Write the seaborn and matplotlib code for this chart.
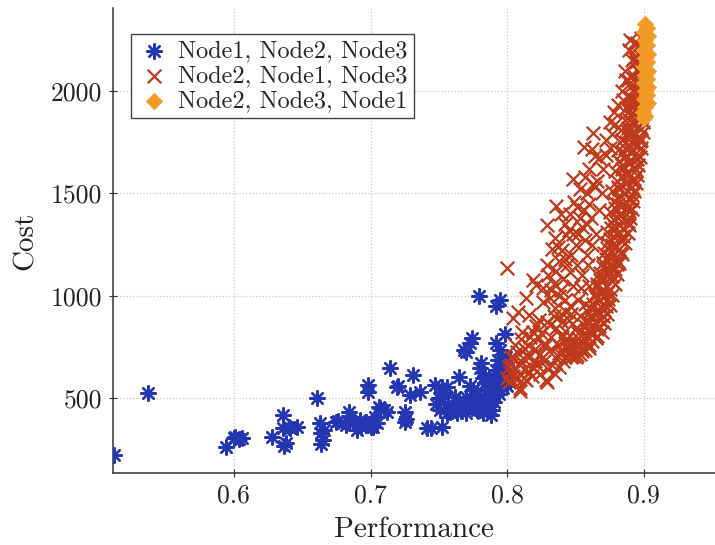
import matplotlib
matplotlib.use("Agg")
import matplotlib.pyplot as plt
import seaborn as sns
import pandas as pd

# ---------------- data ----------------
series_labels = ["Node1, Node2, Node3", "Node2, Node1, Node3", "Node2, Node3, Node1"]

blue_perf = [0.512, 0.537, 0.594, 0.601, 0.606, 0.604, 0.628, 0.636, 0.637, 0.636, 0.641, 0.646,
             0.638, 0.661, 0.663, 0.664, 0.665, 0.664, 0.666, 0.675, 0.682, 0.684, 0.687, 0.690,
             0.692, 0.697, 0.700, 0.702, 0.703, 0.707, 0.698, 0.698, 0.712, 0.714, 0.719, 0.725,
             0.725, 0.729, 0.731, 0.736, 0.741, 0.744, 0.752, 0.747, 0.752, 0.756, 0.750, 0.751,
             0.758, 0.762, 0.765, 0.770, 0.775, 0.784, 0.787, 0.792, 0.795, 0.797, 0.789, 0.782,
             0.778, 0.770, 0.763, 0.756, 0.782, 0.789, 0.774, 0.768, 0.780, 0.785, 0.793, 0.797,
             0.765, 0.780, 0.781, 0.768, 0.770, 0.773, 0.774, 0.798, 0.792, 0.795, 0.779, 0.795,
             0.792, 0.799, 0.799, 0.790, 0.786, 0.776, 0.772, 0.760, 0.790, 0.794, 0.798, 0.786,
             0.778, 0.784, 0.791, 0.796, 0.800, 0.748, 0.753, 0.757, 0.766, 0.780, 0.788, 0.700,
             0.693, 0.684, 0.705, 0.710, 0.640, 0.600, 0.773, 0.782, 0.799, 0.796, 0.676, 0.683,
             0.696, 0.706, 0.720, 0.726]
blue_cost = [222, 526, 259, 311, 303, 300, 311, 416, 266, 352, 352, 357,
             280, 499, 377, 328, 294, 277, 345, 385, 368, 434, 385, 344,
             393, 385, 360, 360, 409, 450, 564, 531, 434, 645, 553, 434,
             385, 515, 613, 531, 352, 355, 360, 564, 556, 556, 499, 442,
             434, 507, 483, 507, 540, 572, 605, 637, 588, 548, 523, 474,
             442, 426, 426, 426, 426, 442, 458, 458, 507, 540, 686, 678,
             601, 645, 670, 735, 727, 767, 792, 811, 767, 735, 999, 979,
             950, 700, 620, 480, 500, 490, 470, 450, 560, 520, 580, 460,
             520, 610, 600, 650, 560, 470, 520, 470, 440, 440, 420, 380,
             360, 380, 380, 440, 360, 305, 560, 600, 660, 600, 388, 388,
             379, 456, 558, 396]

red_perf = [0.800, 0.848, 0.863, 0.856, 0.862, 0.864, 0.867, 0.863, 0.864, 0.836, 0.829, 0.839,
            0.851, 0.845, 0.843, 0.848, 0.833, 0.837, 0.840, 0.855, 0.857, 0.829, 0.819, 0.821,
            0.834, 0.839, 0.846, 0.851, 0.814, 0.826, 0.831, 0.808, 0.816, 0.823, 0.831, 0.836,
            0.843, 0.850, 0.856, 0.804, 0.811, 0.819, 0.823, 0.828, 0.837, 0.840, 0.848, 0.852,
            0.860, 0.807, 0.814, 0.820, 0.809, 0.802, 0.805, 0.816, 0.828, 0.809, 0.800, 0.803,
            0.823, 0.836, 0.829, 0.809,
            0.812, 0.818, 0.826, 0.832, 0.806, 0.801, 0.815, 0.844, 0.838, 0.846, 0.852, 0.848,
            0.842, 0.850, 0.858, 0.853, 0.860, 0.858, 0.870, 0.872, 0.875, 0.878, 0.887, 0.893,
            0.895, 0.891, 0.888, 0.885, 0.893,
            0.842, 0.846, 0.838, 0.845, 0.850, 0.855, 0.853,
            0.848, 0.853, 0.857, 0.860, 0.855, 0.862, 0.858, 0.865,
            0.856, 0.861, 0.866, 0.859, 0.864, 0.868, 0.862, 0.870,
            0.860, 0.865, 0.869, 0.872, 0.863, 0.867, 0.874, 0.870,
            0.864, 0.869, 0.875, 0.872, 0.866, 0.877, 0.871, 0.874,
            0.868, 0.873, 0.879, 0.876, 0.870, 0.881, 0.875, 0.878,
            0.871, 0.876, 0.882, 0.879, 0.873, 0.884, 0.878, 0.881,
            0.873, 0.878, 0.885, 0.882, 0.876, 0.887, 0.880, 0.884,
            0.875, 0.880, 0.888, 0.884, 0.878, 0.890, 0.883, 0.886,
            0.877, 0.882, 0.891, 0.887, 0.880, 0.893, 0.885, 0.889,
            0.879, 0.884, 0.893, 0.889, 0.882, 0.895, 0.887, 0.891,
            0.881, 0.886, 0.895, 0.891, 0.884, 0.897, 0.889, 0.893,
            0.883, 0.888, 0.896, 0.892, 0.886, 0.898, 0.890, 0.894,
            0.887, 0.891, 0.897, 0.893, 0.889, 0.898, 0.895,
            0.890, 0.894, 0.898, 0.892, 0.896, 0.899, 0.894, 0.897, 0.899, 0.896, 0.898,
            0.851, 0.859, 0.863, 0.867, 0.861, 0.871, 0.866, 0.873, 0.868, 0.877, 0.872, 0.880,
            0.874, 0.883, 0.877, 0.885, 0.879, 0.888, 0.882, 0.889, 0.881, 0.891, 0.884, 0.892,
            0.886, 0.894, 0.888, 0.896, 0.890, 0.897, 0.892, 0.898, 0.891, 0.897, 0.893, 0.899,
            0.892, 0.897,
            0.801, 0.804, 0.806, 0.808, 0.810, 0.812, 0.814, 0.816, 0.818, 0.820, 0.822, 0.824,
            0.826, 0.827, 0.803, 0.806, 0.810, 0.813, 0.817, 0.821, 0.825, 0.829, 0.832, 0.834,
            0.830, 0.833, 0.835, 0.838, 0.841, 0.844, 0.847, 0.849, 0.852, 0.835, 0.840, 0.842,
            0.845, 0.847, 0.842, 0.838, 0.832, 0.826, 0.830, 0.836, 0.841, 0.844, 0.847, 0.838,
            0.835, 0.842, 0.846, 0.849, 0.853, 0.857, 0.860, 0.852, 0.856, 0.858, 0.861, 0.855,
            0.859, 0.862, 0.865, 0.854, 0.857, 0.853, 0.860, 0.867, 0.869, 0.866, 0.872, 0.875,
            0.877, 0.879, 0.881, 0.884, 0.886, 0.889, 0.890,
            0.866, 0.869, 0.871, 0.873, 0.875, 0.877, 0.879, 0.880, 0.882, 0.884, 0.886, 0.888,
            0.889, 0.890, 0.891, 0.892, 0.893, 0.894, 0.895, 0.896, 0.897, 0.898, 0.898, 0.899,
            0.899, 0.899, 0.899,
            0.858, 0.861, 0.864, 0.866, 0.868, 0.870, 0.872, 0.873, 0.875, 0.876, 0.878, 0.879,
            0.880, 0.881, 0.883, 0.884, 0.885, 0.887, 0.888, 0.889, 0.890, 0.891, 0.893, 0.895,
            0.896,
            0.854, 0.857, 0.859, 0.850, 0.846, 0.843, 0.840]
red_cost = [1138, 1571, 1794, 1725, 1717, 1685, 1672, 1547, 1531, 1441, 1344, 1401,
            1433, 1320, 1295, 1303, 1230, 1239, 1222, 1336, 1271, 1149, 1076, 1052,
            1060, 1028, 1117, 1149, 987, 971, 987, 922, 906, 882, 857, 841,
            922, 841, 857, 890, 825, 825, 792, 760, 760, 727, 744, 792,
            760, 727, 711, 679, 662, 630, 695, 630, 589, 549, 597, 662,
            711, 695, 580, 537,
            600, 650, 700, 740, 600, 650, 760, 790, 900, 950, 980, 1050,
            1180, 1250, 1200, 1380, 1450, 1500, 1620, 1760, 1850, 1900, 2056, 2161,
            2237, 2151, 2054, 1956, 2234,
            700, 720, 720, 760, 700, 730, 760,
            705, 718, 735, 745, 770, 780, 800, 795,
            820, 830, 840, 860, 870, 880, 895, 900,
            915, 925, 940, 950, 960, 975, 985, 1000,
            1010, 1025, 1035, 1050, 1060, 1070, 1085, 1100,
            1110, 1120, 1130, 1145, 1160, 1170, 1185, 1200,
            1210, 1220, 1230, 1245, 1260, 1270, 1285, 1300,
            1310, 1320, 1330, 1345, 1360, 1370, 1385, 1400,
            1410, 1420, 1430, 1445, 1460, 1470, 1485, 1500,
            1510, 1520, 1530, 1545, 1560, 1570, 1585, 1600,
            1610, 1620, 1630, 1645, 1660, 1670, 1685, 1700,
            1710, 1720, 1730, 1745, 1760, 1770, 1785, 1800,
            1810, 1820, 1830, 1845, 1860, 1870, 1885, 1900,
            1915, 1925, 1940, 1955, 1970, 1985, 2000,
            2020, 2040, 2060, 2080, 2100, 2120, 2140, 2170, 2200, 2220, 2260,
            712, 755, 812, 853, 905, 930, 990, 1015, 1075, 1095, 1135, 1155,
            1195, 1215, 1250, 1290, 1335, 1355, 1395, 1415, 1450, 1490, 1535, 1555,
            1595, 1615, 1655, 1690, 1725, 1755, 1790, 1815, 1850, 1895, 1930, 1960,
            2005, 2030,
            580, 610, 640, 600, 680, 640, 590, 700, 610, 740, 660, 620,
            760, 680, 700, 760, 790, 740, 800, 850, 820, 870, 800, 900,
            640, 660, 620, 650, 680, 740, 700, 770, 820, 940, 870, 830,
            880, 910, 980, 1000, 1030, 1040, 1100, 1120, 1080, 1150, 1200, 1170,
            1280, 1350, 1400, 1460, 1520, 1580, 1620, 1300, 1420, 1350, 1380, 1100,
            1150, 1250, 1300, 1040, 960, 900, 1050, 1420, 1500, 1560, 1690, 1720,
            1790, 1840, 1930, 2000, 2100, 2200, 2250,
            805, 822, 868, 910, 955, 1005, 1060, 1105, 1160, 1205, 1260, 1305,
            1345, 1380, 1425, 1465, 1510, 1550, 1590, 1640, 1680, 1720, 1760, 1800,
            1850, 1890, 1930,
            880, 940, 1000, 1045, 1090, 1140, 1180, 1235, 1275, 1330, 1370, 1430,
            1480, 1530, 1580, 1640, 1700, 1750, 1800, 1860, 1910, 1960, 2060, 2110,
            2160,
            740, 790, 830, 760, 730, 760, 800]

orange_perf = [0.901, 0.902, 0.900, 0.903, 0.901, 0.902, 0.900, 0.903, 0.901, 0.902, 0.900, 0.903,
               0.901, 0.902, 0.900, 0.903, 0.901, 0.902, 0.900, 0.903, 0.901, 0.899, 0.901, 0.900]
orange_cost = [2330, 2310, 2290, 2270, 2250, 2225, 2200, 2180, 2160, 2140, 2120, 2100,
               2080, 2060, 2040, 2020, 2000, 1980, 1960, 1940, 1920, 1900, 1880, 1870]

x_ticks = [0.6, 0.7, 0.8, 0.9]
y_ticks = [500, 1000, 1500, 2000]

# ---------------- style ----------------
sns.set_theme(style="white")
plt.rcParams["font.family"] = ["cmr10", "DejaVu Serif"]
plt.rcParams["axes.formatter.use_mathtext"] = True
plt.rcParams["mathtext.fontset"] = "cm"

c_blue = "#2436b2"
c_red = "#bf3a1a"
c_orange = "#f39a26"

fig = plt.figure(figsize=(7.15, 5.45), dpi=100)
ax = fig.add_axes([0.158, 0.132, 0.842, 0.853])

df_b = pd.DataFrame({"Performance": blue_perf, "Cost": blue_cost})
df_r = pd.DataFrame({"Performance": red_perf, "Cost": red_cost})
df_o = pd.DataFrame({"Performance": orange_perf, "Cost": orange_cost})

sns.scatterplot(data=df_b, x="Performance", y="Cost", ax=ax, marker=(8, 2, 0),
                s=110, color=c_blue, linewidth=1.7, label=series_labels[0], zorder=3)
sns.scatterplot(data=df_r, x="Performance", y="Cost", ax=ax, marker="x",
                s=95, color=c_red, linewidth=1.6, label=series_labels[1], zorder=4)
sns.scatterplot(data=df_o, x="Performance", y="Cost", ax=ax, marker="D",
                s=70, color=c_orange, edgecolor=c_orange, linewidth=0.5,
                label=series_labels[2], zorder=5)

ax.set_xlim(0.5115, 0.952)
ax.set_ylim(134, 2405)
ax.set_xticks(x_ticks)
ax.set_xticklabels([f"{v:.1f}" for v in x_ticks])
ax.set_yticks(y_ticks)
ax.set_yticklabels([str(v) for v in y_ticks])

ax.grid(True, linestyle=":", color="#c8c8c8", linewidth=0.9)
for side in ["top", "right"]:
    ax.spines[side].set_visible(False)
for side in ["left", "bottom"]:
    ax.spines[side].set_color("#333333")
    ax.spines[side].set_linewidth(1.1)

ax.tick_params(axis="both", which="major", direction="inout", length=6, width=0.8,
               color="#333333", labelsize=18.5, labelcolor="#222222",
               bottom=True, left=True, pad=5)
ax.set_xlabel("Performance", fontsize=21, color="#222222", labelpad=6)
ax.set_ylabel("Cost", fontsize=21, color="#222222", labelpad=8)

leg = ax.legend(loc="upper left", bbox_to_anchor=(0.03, 0.945), borderaxespad=0,
                fontsize=17.5, frameon=True, fancybox=False, edgecolor="#444444",
                framealpha=1, labelspacing=0.12, handletextpad=0.3, borderpad=0.25,
                handlelength=1.4)
leg.get_frame().set_linewidth(1.0)

fig.savefig("out.png", dpi=100)
